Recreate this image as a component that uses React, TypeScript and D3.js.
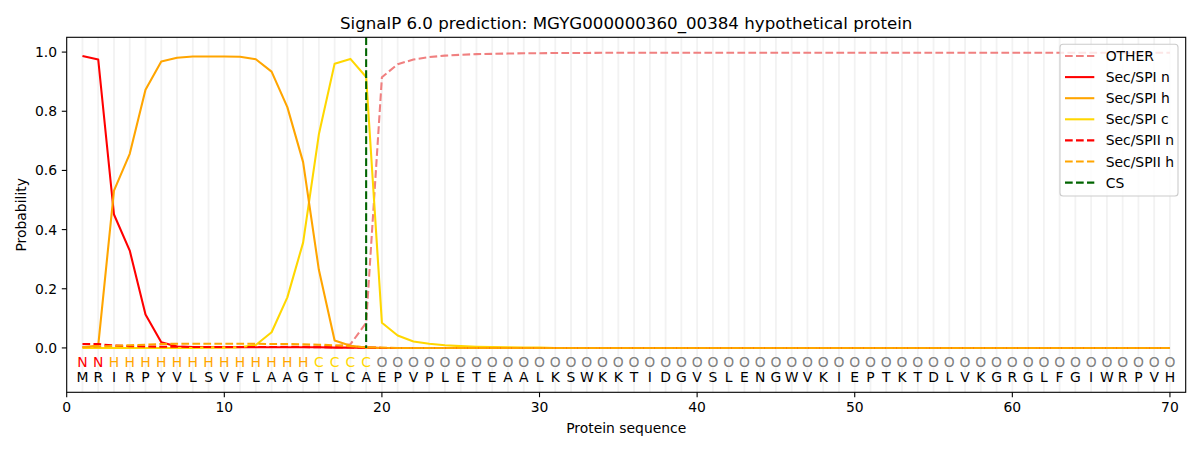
import React from "react";
import * as d3 from "d3";

const sequence = "MRIRPYVLSVFLAAGTLCAEPVPLETEAALKSWKKTIDGVSLENGWVKIEPTKTDLVKGRGLFGIWRPVH".split("");
const annotation = "NNHHHHHHHHHHHHHCCCCOOOOOOOOOOOOOOOOOOOOOOOOOOOOOOOOOOOOOOOOOOOOOOOOOOO".split("");

const other = [
  0.004, 0.004, 0.003, 0.003, 0.003, 0.003, 0.003, 0.003, 0.003, 0.003,
  0.003, 0.003, 0.003, 0.004, 0.004, 0.005, 0.006, 0.012, 0.085, 0.915,
  0.959, 0.975, 0.983, 0.988, 0.991, 0.993, 0.994, 0.995, 0.996, 0.996,
  0.997, 0.997, 0.997, 0.998, 0.998, 0.998, 0.998, 0.998, 0.998, 0.998,
  0.998, 0.998, 0.998, 0.998, 0.998, 0.998, 0.998, 0.998, 0.998, 0.998,
  0.998, 0.998, 0.998, 0.998, 0.998, 0.998, 0.998, 0.998, 0.998, 0.998,
  0.998, 0.998, 0.998, 0.998, 0.998, 0.998, 0.998, 0.998, 0.998, 0.998,
];
const spiN = [
  0.987, 0.975, 0.451, 0.329, 0.113, 0.019, 0.005, 0.003, 0.002, 0.002,
  0.002, 0.002, 0.002, 0.002, 0.002, 0.002, 0.001, 0.001, 0.001, 0.0,
  0.0, 0.0, 0.0, 0.0, 0.0, 0.0, 0.0, 0.0, 0.0, 0.0,
  0.0, 0.0, 0.0, 0.0, 0.0, 0.0, 0.0, 0.0, 0.0, 0.0,
  0.0, 0.0, 0.0, 0.0, 0.0, 0.0, 0.0, 0.0, 0.0, 0.0,
  0.0, 0.0, 0.0, 0.0, 0.0, 0.0, 0.0, 0.0, 0.0, 0.0,
  0.0, 0.0, 0.0, 0.0, 0.0, 0.0, 0.0, 0.0, 0.0, 0.0,
];
const spiH = [
  0.002, 0.008, 0.532, 0.656, 0.873, 0.968, 0.981, 0.985, 0.985, 0.985,
  0.984, 0.976, 0.934, 0.814, 0.628, 0.264, 0.025, 0.007, 0.001, 0.0,
  0.0, 0.0, 0.0, 0.0, 0.0, 0.0, 0.0, 0.0, 0.0, 0.0,
  0.0, 0.0, 0.0, 0.0, 0.0, 0.0, 0.0, 0.0, 0.0, 0.0,
  0.0, 0.0, 0.0, 0.0, 0.0, 0.0, 0.0, 0.0, 0.0, 0.0,
  0.0, 0.0, 0.0, 0.0, 0.0, 0.0, 0.0, 0.0, 0.0, 0.0,
  0.0, 0.0, 0.0, 0.0, 0.0, 0.0, 0.0, 0.0, 0.0, 0.0,
];
const spiC = [
  0.0, 0.0, 0.0, 0.0, 0.0, 0.0, 0.0, 0.0, 0.001, 0.001,
  0.002, 0.01, 0.053, 0.171, 0.356, 0.722, 0.961, 0.977, 0.916, 0.085,
  0.042, 0.022, 0.014, 0.009, 0.006, 0.004, 0.003, 0.002, 0.001, 0.001,
  0.0, 0.0, 0.0, 0.0, 0.0, 0.0, 0.0, 0.0, 0.0, 0.0,
  0.0, 0.0, 0.0, 0.0, 0.0, 0.0, 0.0, 0.0, 0.0, 0.0,
  0.0, 0.0, 0.0, 0.0, 0.0, 0.0, 0.0, 0.0, 0.0, 0.0,
  0.0, 0.0, 0.0, 0.0, 0.0, 0.0, 0.0, 0.0, 0.0, 0.0,
];
const spiiN = [
  0.013, 0.013, 0.008, 0.006, 0.005, 0.004, 0.004, 0.003, 0.003, 0.003,
  0.003, 0.003, 0.003, 0.003, 0.003, 0.002, 0.002, 0.002, 0.001, 0.0,
  0.0, 0.0, 0.0, 0.0, 0.0, 0.0, 0.0, 0.0, 0.0, 0.0,
  0.0, 0.0, 0.0, 0.0, 0.0, 0.0, 0.0, 0.0, 0.0, 0.0,
  0.0, 0.0, 0.0, 0.0, 0.0, 0.0, 0.0, 0.0, 0.0, 0.0,
  0.0, 0.0, 0.0, 0.0, 0.0, 0.0, 0.0, 0.0, 0.0, 0.0,
  0.0, 0.0, 0.0, 0.0, 0.0, 0.0, 0.0, 0.0, 0.0, 0.0,
];
const spiiH = [
  0.002, 0.004, 0.007, 0.009, 0.011, 0.013, 0.014, 0.014, 0.014, 0.014,
  0.014, 0.014, 0.013, 0.013, 0.012, 0.011, 0.009, 0.006, 0.002, 0.001,
  0.0, 0.0, 0.0, 0.0, 0.0, 0.0, 0.0, 0.0, 0.0, 0.0,
  0.0, 0.0, 0.0, 0.0, 0.0, 0.0, 0.0, 0.0, 0.0, 0.0,
  0.0, 0.0, 0.0, 0.0, 0.0, 0.0, 0.0, 0.0, 0.0, 0.0,
  0.0, 0.0, 0.0, 0.0, 0.0, 0.0, 0.0, 0.0, 0.0, 0.0,
  0.0, 0.0, 0.0, 0.0, 0.0, 0.0, 0.0, 0.0, 0.0, 0.0,
];
const csPosition = 19;

const xTicks = [0, 10, 20, 30, 40, 50, 60, 70];
const yTicks = [0.0, 0.2, 0.4, 0.6, 0.8, 1.0];

const series = [
  { name: "OTHER", values: other, color: "#F08080", dashed: true, z: 0 },
  { name: "Sec/SPI n", values: spiN, color: "#FF0000", dashed: false, z: 1 },
  { name: "Sec/SPI h", values: spiH, color: "#FFA500", dashed: false, z: 3 },
  { name: "Sec/SPI c", values: spiC, color: "#FFD700", dashed: false, z: 2 },
  { name: "Sec/SPII n", values: spiiN, color: "#FF0000", dashed: true, z: 4 },
  { name: "Sec/SPII h", values: spiiH, color: "#FFA500", dashed: true, z: 5 },
];

const labelColors: Record<string, string> = {
  N: "#FF0000",
  H: "#FFA500",
  C: "#FFD700",
  O: "#808080",
};

const W = 1200;
const H = 450;
const left = 66.7;
const right = 1185.7;
const top = 37.3;
const bottom = 392.3;
const FONT = "DejaVu Sans, sans-serif";
const LW = 2.08;
const DASH = "7.7,3.3";

export default function App() {
  const x = d3.scaleLinear().domain([0, 71]).range([left, right]);
  const y = d3.scaleLinear().domain([-0.15, 1.05]).range([bottom, top]);
  const positions = d3.range(1, sequence.length + 1);
  const line = d3
    .line<number>()
    .x((_, i) => x(i + 1))
    .y((d) => y(d));

  const legendItems = [
    ...series.map((s) => ({ name: s.name, color: s.color, dashed: s.dashed })),
    { name: "CS", color: "#006400", dashed: true },
  ];
  const drawOrder = [...series].sort((a, b) => a.z - b.z);

  return (
    <svg
      width={W}
      height={H}
      style={{ position: "fixed", left: 0, top: 0, background: "#fff" }}
      fontFamily={FONT}
    >
      <rect x={0} y={0} width={W} height={H} fill="#fff" />
      <text x={(left + right) / 2} y={29} textAnchor="middle" fontSize={16.67} fill="#000">
        SignalP 6.0 prediction: MGYG000000360_00384 hypothetical protein
      </text>
      <g>
        {positions.map((p) => (
          <line key={p} x1={x(p)} x2={x(p)} y1={top} y2={bottom} stroke="#f2f2f2" strokeWidth={1.8} />
        ))}
      </g>
      {drawOrder.map((s) => (
        <path
          key={s.name}
          d={line(s.values) || ""}
          fill="none"
          stroke={s.color}
          strokeWidth={LW}
          strokeDasharray={s.dashed ? DASH : undefined}
          strokeLinejoin="round"
        />
      ))}
      <line
        x1={x(csPosition)}
        x2={x(csPosition)}
        y1={y(1.05)}
        y2={y(0)}
        stroke="#006400"
        strokeWidth={LW}
        strokeDasharray={DASH}
      />
      {positions.map((p, i) => (
        <text
          key={"a" + p}
          x={x(p)}
          y={y(-0.047)}
          textAnchor="middle"
          dominantBaseline="central"
          fontSize={13.9}
          fill={labelColors[annotation[i]]}
        >
          {annotation[i]}
        </text>
      ))}
      {positions.map((p, i) => (
        <text
          key={"s" + p}
          x={x(p)}
          y={y(-0.097)}
          textAnchor="middle"
          dominantBaseline="central"
          fontSize={13.9}
          fill="#000"
        >
          {sequence[i]}
        </text>
      ))}
      <rect x={left} y={top} width={right - left} height={bottom - top} fill="none" stroke="#000" strokeWidth={1.1} />
      {xTicks.map((t) => (
        <g key={"xt" + t}>
          <line x1={x(t)} x2={x(t)} y1={bottom} y2={bottom + 4.9} stroke="#000" strokeWidth={1.1} />
          <text x={x(t)} y={bottom + 9.7} textAnchor="middle" dominantBaseline="hanging" fontSize={13.9} fill="#000">
            {t}
          </text>
        </g>
      ))}
      {yTicks.map((t) => (
        <g key={"yt" + t}>
          <line x1={left - 4.9} x2={left} y1={y(t)} y2={y(t)} stroke="#000" strokeWidth={1.1} />
          <text x={left - 9.7} y={y(t)} textAnchor="end" dominantBaseline="central" fontSize={13.9} fill="#000">
            {t.toFixed(1)}
          </text>
        </g>
      ))}
      <text x={(left + right) / 2} y={433} textAnchor="middle" fontSize={13.9} fill="#000">
        Protein sequence
      </text>
      <text
        transform={`translate(26, ${(top + bottom) / 2}) rotate(-90)`}
        textAnchor="middle"
        fontSize={13.9}
        fill="#000"
      >
        Probability
      </text>
      <g>
        <rect x={1060} y={44.3} width={118} height={151.7} rx={3} fill="#fff" fillOpacity={0.8} stroke="#cccccc" strokeWidth={1.1} />
        {legendItems.map((it, i) => {
          const ly = 56 + i * 21.1;
          return (
            <g key={it.name}>
              <line
                x1={1065}
                x2={1094.3}
                y1={ly}
                y2={ly}
                stroke={it.color}
                strokeWidth={LW}
                strokeDasharray={it.dashed ? DASH : undefined}
              />
              <text x={1105.7} y={ly} dominantBaseline="central" fontSize={13.9} fill="#000">
                {it.name}
              </text>
            </g>
          );
        })}
      </g>
    </svg>
  );
}
